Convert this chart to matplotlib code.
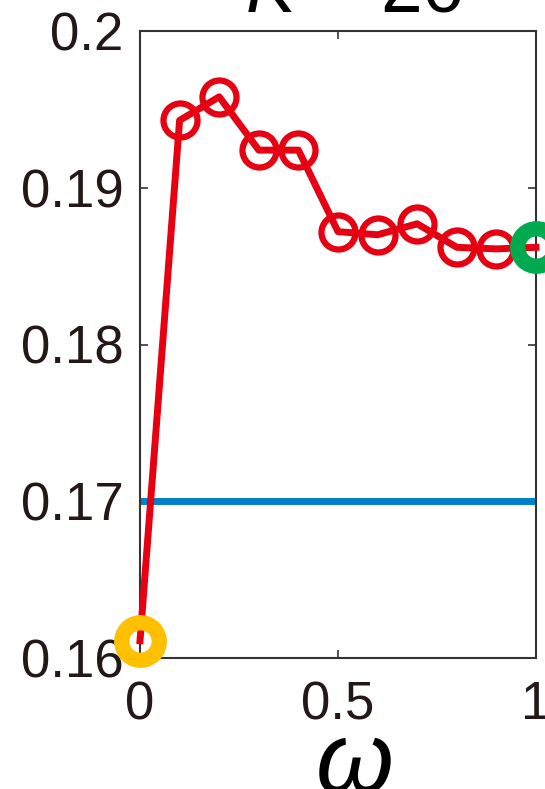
import matplotlib
matplotlib.use("Agg")
import matplotlib.pyplot as plt

plt.rcParams['font.family'] = ['Liberation Sans', 'DejaVu Sans']
plt.rcParams['mathtext.fontset'] = 'custom'
plt.rcParams['mathtext.it'] = 'Liberation Sans:italic'
plt.rcParams['mathtext.rm'] = 'Liberation Sans'

# accuracy vs mixing weight omega
omega = [0.0, 0.1, 0.2, 0.3, 0.4, 0.5, 0.6, 0.7, 0.8, 0.9, 1.0]
acc = [0.1611, 0.1943, 0.1958, 0.1924, 0.1924, 0.1872, 0.1870, 0.1877, 0.1862, 0.1861, 0.1862]
baseline = 0.170

xticks = [0, 0.5, 1]
xticklabels = ["0", "0.5", "1"]
yticks = [0.16, 0.17, 0.18, 0.19, 0.20]
yticklabels = ["0.16", "0.17", "0.18", "0.19", "0.2"]

red = "#E60012"
blue = "#0080C8"
yellow = "#FFC000"
green = "#00AA4F"

W, H = 545, 789
fig = plt.figure(figsize=(W / 100, H / 100), dpi=100)
ax = fig.add_axes([140 / W, 1 - 658 / H, (536 - 140) / W, (658 - 31) / H])

ax.axhline(baseline, color=blue, lw=5, zorder=2)
ax.plot(omega, acc, color=red, lw=5, marker='o', ms=24.5, mfc='none',
        mec=red, mew=4.5, zorder=3, clip_on=False)
ax.plot(omega[0], acc[0], marker='o', ms=27, mfc='none', mec=yellow,
        mew=11, zorder=5, clip_on=False, ls='none')
ax.plot(omega[-1], acc[-1], marker='o', ms=27, mfc='none', mec=green,
        mew=11, zorder=5, clip_on=False, ls='none')

ax.set_xlim(0, 1)
ax.set_ylim(0.16, 0.20)
ax.set_xticks(xticks)
ax.set_xticklabels(xticklabels)
ax.set_yticks(yticks)
ax.set_yticklabels(yticklabels)
ax.tick_params(direction='in', length=6, width=1.2, color='#333333',
               labelsize=38, labelcolor='#231815', top=True, right=True)
ax.tick_params(axis='y', pad=12)
ax.tick_params(axis='x', pad=16)
for s in ax.spines.values():
    s.set_color('#333333')
    s.set_linewidth(1.5)

fig.text(354 / W, 1 - 11 / H, "$K$ = 20", ha='center', va='baseline',
         fontsize=54, color='black')
fig.text(355 / W, -0.004, "ω", ha='center', va='baseline', fontsize=72,
         style='italic', color='black')

fig.savefig("out.png", dpi=100)
